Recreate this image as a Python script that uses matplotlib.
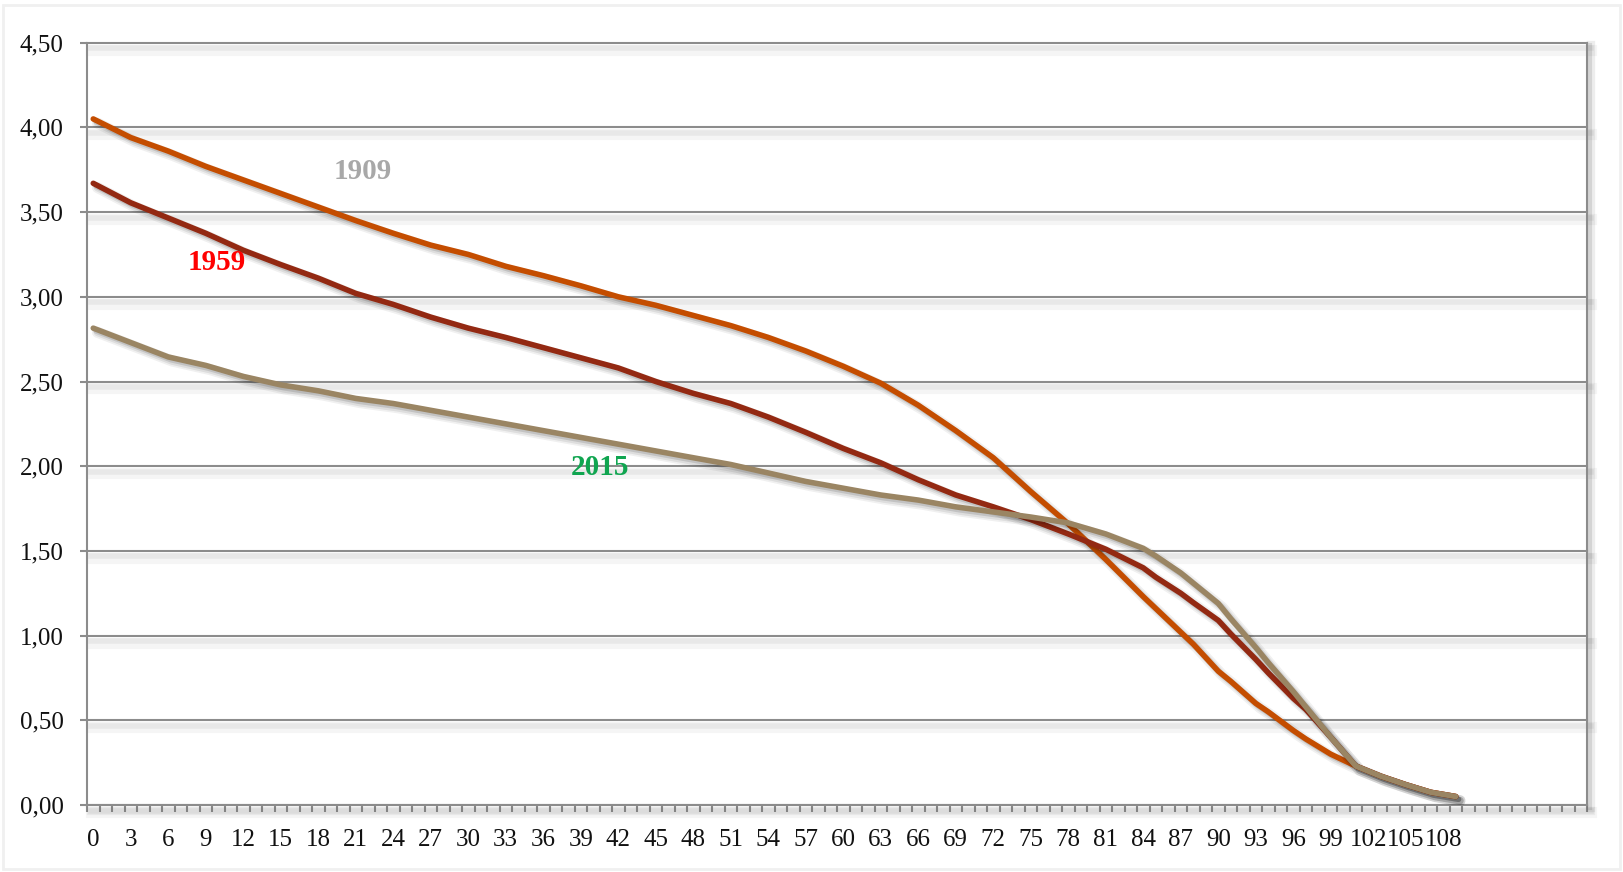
import matplotlib
matplotlib.use('Agg')
import matplotlib.pyplot as plt
import matplotlib.patheffects as pe
from matplotlib.ticker import FuncFormatter, FixedLocator

ages = [0, 3, 6, 9, 12, 15, 18, 21, 24, 27, 30, 33, 36, 39, 42, 45, 48, 51,
        54, 57, 60, 63, 66, 69, 72, 75, 78, 81, 84, 85, 87, 88, 90, 91, 93, 94,
        96, 97, 99, 101, 103, 105, 107, 109]

# 1909 curve (orange)
v1909 = [4.05, 3.94, 3.86, 3.77, 3.69, 3.61, 3.53, 3.45, 3.375, 3.305, 3.25, 3.18,
         3.125, 3.065, 3.00, 2.95, 2.89, 2.83, 2.76, 2.68, 2.59, 2.49, 2.36, 2.21,
         2.05, 1.85, 1.66, 1.45, 1.23, 1.16, 1.02, 0.95, 0.79, 0.73, 0.60, 0.55,
         0.44, 0.39, 0.30, 0.23, 0.17, 0.12, 0.075, 0.05]

# 1959 curve (dark red)
v1959 = [3.67, 3.555, 3.465, 3.375, 3.275, 3.19, 3.11, 3.02, 2.955, 2.88, 2.815, 2.76,
         2.70, 2.64, 2.58, 2.50, 2.43, 2.37, 2.29, 2.20, 2.105, 2.02, 1.92, 1.83,
         1.76, 1.685, 1.60, 1.51, 1.40, 1.345, 1.25, 1.195, 1.09, 1.01, 0.86, 0.78,
         0.63, 0.565, 0.40, 0.23, 0.17, 0.12, 0.075, 0.05]

# 2015 curve (tan)
v2015 = [2.815, 2.73, 2.645, 2.595, 2.53, 2.48, 2.445, 2.40, 2.37, 2.33, 2.29, 2.25,
         2.21, 2.17, 2.13, 2.09, 2.05, 2.01, 1.96, 1.91, 1.87, 1.83, 1.80, 1.76,
         1.73, 1.70, 1.665, 1.60, 1.515, 1.47, 1.37, 1.31, 1.19, 1.10, 0.93, 0.84,
         0.67, 0.58, 0.40, 0.23, 0.17, 0.12, 0.075, 0.05]

series_labels = ['1909', '1959', '2015']
y_ticks = [0.0, 0.5, 1.0, 1.5, 2.0, 2.5, 3.0, 3.5, 4.0, 4.5]
x_labels = list(range(0, 109, 3))
n_categories = 120

plt.rcParams['font.family'] = ['Liberation Serif', 'DejaVu Serif']

fig = plt.figure(figsize=(16.23, 8.72), dpi=100)
fig.patches.append(plt.Rectangle((0.002, 0.004), 0.996, 0.99, transform=fig.transFigure,
                                 fill=False, edgecolor='#f0f0f0', linewidth=2))
ax = fig.add_axes([87 / 1623, 1 - 805 / 872, 1500 / 1623, (805 - 42.7) / 872])

ax.set_xlim(-0.5, n_categories - 0.5)
ax.set_ylim(0, 4.5)

# grid lines with a soft shadow underneath
grid_fx = [pe.SimpleLineShadow(offset=(3, -5), shadow_color='black', alpha=0.04, linewidth=8),
           pe.SimpleLineShadow(offset=(3, -4), shadow_color='black', alpha=0.05, linewidth=4),
           pe.Normal()]
for yv in y_ticks:
    ax.axhline(yv, color='#8c8c8c', linewidth=1.5, zorder=1, clip_on=False,
               path_effects=grid_fx)

def shadow(lw):
    return [pe.SimpleLineShadow(offset=(3, -3), shadow_color='black', alpha=0.06, linewidth=lw + 4),
            pe.SimpleLineShadow(offset=(3, -3), shadow_color='black', alpha=0.08, linewidth=lw + 1.5),
            pe.SimpleLineShadow(offset=(2, -2), shadow_color='black', alpha=0.12, linewidth=lw),
            pe.Normal()]

lw = 4.0
ax.plot(ages, v1909, color='#c44d00', linewidth=lw, solid_capstyle='round',
        solid_joinstyle='round', zorder=3, path_effects=shadow(lw))
ax.plot(ages, v1959, color='#932912', linewidth=lw, solid_capstyle='round',
        solid_joinstyle='round', zorder=4, path_effects=shadow(lw))
ax.plot(ages, v2015, color='#9a8563', linewidth=lw, solid_capstyle='round',
        solid_joinstyle='round', zorder=5, path_effects=shadow(lw))

# series labels
ax.text(21.6, 3.74, series_labels[0], color='#a8a8a8', fontsize=21, fontweight='bold',
        ha='center', va='center', zorder=6)
ax.text(9.9, 3.20, series_labels[1], color='#ff0000', fontsize=21, fontweight='bold',
        ha='center', va='center', zorder=6)
ax.text(40.5, 1.99, series_labels[2], color='#10a550', fontsize=21, fontweight='bold',
        ha='center', va='center', zorder=6)

# spines
ax.spines['top'].set_visible(False)
for s in ['left', 'bottom', 'right']:
    ax.spines[s].set_color('#8c8c8c')
    ax.spines[s].set_linewidth(1.5)
ax.spines['right'].set_path_effects([
    pe.SimpleLineShadow(offset=(3, -2), shadow_color='black', alpha=0.07, linewidth=6),
    pe.SimpleLineShadow(offset=(2, -2), shadow_color='black', alpha=0.1, linewidth=3),
    pe.Normal()])
ax.spines['bottom'].set_path_effects([
    pe.SimpleLineShadow(offset=(3, -4), shadow_color='black', alpha=0.05, linewidth=6),
    pe.Normal()])

# y axis
ax.set_yticks(y_ticks)
ax.yaxis.set_major_formatter(FuncFormatter(lambda v, p: f'{v:.2f}'.replace('.', ',')))
ax.tick_params(axis='y', which='major', direction='out', length=5, width=1.5,
               color='#8c8c8c', labelsize=18, pad=12, labelcolor='#111111')

# x axis: category axis, marks between categories, labels every 3
ax.set_xticks(x_labels)
ax.set_xticklabels([str(v) for v in x_labels])
ax.xaxis.set_minor_locator(FixedLocator([i - 0.5 for i in range(n_categories + 1)]))
ax.tick_params(axis='x', which='major', length=0, labelsize=18, pad=17,
               labelcolor='#111111')
ax.tick_params(axis='x', which='minor', direction='out', length=5, width=1.5,
               color='#8c8c8c')

fig.savefig('out.png', dpi=100, facecolor='white')
